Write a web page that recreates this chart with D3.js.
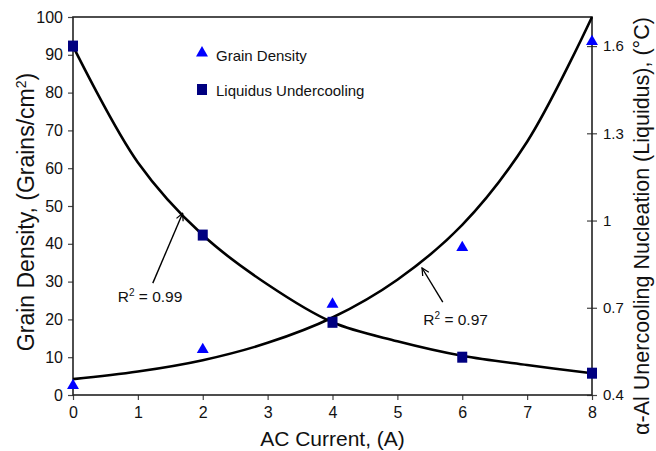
<!DOCTYPE html>
<html>
<head>
  <meta charset="utf-8">
  <script src="https://d3js.org/d3.v7.min.js"></script>
  <style>
    body { margin: 0; background: #fff; }
    text { font-family: "Liberation Sans", Arial, sans-serif; fill: #111; }
  </style>
</head>
<body>
<script>
// measured points
var current = [0, 2, 4, 6, 8];
var grainDensity = [2.5, 12, 24, 39, 93.5];          // left axis, grains/cm2
var undercooling = [1.6, 0.95, 0.65, 0.53, 0.475];   // right axis, degC

// fitted trend lines at whole amps
var fitCurrent = [0, 1, 2, 3, 4, 5, 6, 7, 8];
var grainFit = [4.2, 6.2, 9.2, 13.8, 20.5, 30.5, 45, 67, 100];
var underFit = [1.6, 1.2, 0.95, 0.78, 0.65, 0.585, 0.535, 0.503, 0.475];

var xTicks = [0, 1, 2, 3, 4, 5, 6, 7, 8];
var leftTicks = [0, 10, 20, 30, 40, 50, 60, 70, 80, 90, 100];
var rightTicks = [0.4, 0.7, 1, 1.3, 1.6];

var legendLabels = ["Grain Density", "Liquidus Undercooling"];
var r2Labels = ["0.99", "0.97"];

var W = 656, H = 451;
// note: "top" is taken by window.top, so use m-prefixed names
var mLeft = 73, mRight = 592, mTop = 17, mBottom = 395;

var svg = d3.select("body").append("svg").attr("width", W).attr("height", H);

var x = d3.scaleLinear().domain([0, 8]).range([mLeft, mRight]);
var yL = d3.scaleLinear().domain([0, 100]).range([mBottom, mTop]);
var yR = d3.scaleLinear().domain([0.4, 1.7]).range([mBottom, mTop]);

// axes
var gx = svg.append("g").attr("transform", "translate(0," + mBottom + ")")
  .call(d3.axisBottom(x).tickValues(xTicks).tickSize(5).tickPadding(7).tickFormat(d3.format("d")));
var gl = svg.append("g").attr("transform", "translate(" + mLeft + ",0)")
  .call(d3.axisLeft(yL).tickValues(leftTicks).tickSize(5).tickPadding(5));
var gr = svg.append("g").attr("transform", "translate(" + mRight + ",0)")
  .call(d3.axisRight(yR).tickValues(rightTicks).tickSize(5).tickPadding(6).tickFormat(function(d) { return String(d); }));

[gx, gl, gr].forEach(function(g) {
  g.select(".domain").remove();
  g.selectAll(".tick line").attr("stroke", "#444").attr("stroke-width", 1.2);
  g.selectAll(".tick text").style("font-size", "16px").attr("fill", "#111");
});
gr.selectAll(".tick line").attr("x1", -5);
gr.selectAll(".tick text").style("font-size", "15px");

// frame
svg.append("rect").attr("x", mLeft).attr("y", mTop)
  .attr("width", mRight - mLeft).attr("height", mBottom - mTop)
  .attr("fill", "none").attr("stroke", "#222").attr("stroke-width", 1.6);

// trend lines
var lineL = d3.line().x(function(d, i) { return x(fitCurrent[i]); }).y(function(d) { return yL(d); }).curve(d3.curveCatmullRom);
var lineR = d3.line().x(function(d, i) { return x(fitCurrent[i]); }).y(function(d) { return yR(d); }).curve(d3.curveCatmullRom);
svg.append("path").attr("d", lineL(grainFit)).attr("fill", "none").attr("stroke", "#000").attr("stroke-width", 2.6);
svg.append("path").attr("d", lineR(underFit)).attr("fill", "none").attr("stroke", "#000").attr("stroke-width", 2.6);

// markers
var tri = d3.symbol().type(d3.symbolTriangle).size(62);
svg.selectAll(".tri").data(grainDensity).enter().append("path")
  .attr("d", tri)
  .attr("transform", function(d, i) { return "translate(" + x(current[i]) + "," + yL(d) + ")"; })
  .attr("fill", "#0000ff");
svg.selectAll(".sq").data(undercooling).enter().append("rect")
  .attr("x", function(d, i) { return x(current[i]) - 5; })
  .attr("y", function(d) { return yR(d) - 5.5; })
  .attr("width", 10).attr("height", 11)
  .attr("fill", "#000080");

// legend
svg.append("path").attr("d", tri).attr("transform", "translate(202,53)").attr("fill", "#0000ff");
svg.append("rect").attr("x", 197).attr("y", 84).attr("width", 10).attr("height", 11).attr("fill", "#000080");
svg.append("text").attr("x", 216).attr("y", 61).style("font-size", "15px").text(legendLabels[0]);
svg.append("text").attr("x", 216).attr("y", 96).style("font-size", "15px").text(legendLabels[1]);

// R^2 annotations (positions in data units of the left axis)
svg.append("defs").append("marker").attr("id", "ah")
  .attr("viewBox", "0 0 10 10").attr("refX", 9).attr("refY", 5)
  .attr("markerWidth", 9).attr("markerHeight", 9).attr("orient", "auto")
  .attr("markerUnits", "userSpaceOnUse")
  .append("path").attr("d", "M1,1 L9,5 L1,9").attr("fill", "none").attr("stroke", "#000").attr("stroke-width", 1.4);

var notes = [
  { label: r2Labels[0], tail: [1.23, 29.6], tip: [1.69, 48.1], at: [0.69, 24.6] },
  { label: r2Labels[1], tail: [5.70, 24.6], tip: [5.38, 33.6], at: [5.40, 18.5] }
];
notes.forEach(function(n) {
  svg.append("line")
    .attr("x1", x(n.tail[0])).attr("y1", yL(n.tail[1]))
    .attr("x2", x(n.tip[0])).attr("y2", yL(n.tip[1]))
    .attr("stroke", "#000").attr("stroke-width", 1.4).attr("marker-end", "url(#ah)");
  var t = svg.append("text").attr("x", x(n.at[0])).attr("y", yL(n.at[1])).style("font-size", "15.5px");
  t.append("tspan").text("R");
  t.append("tspan").attr("dy", -6).style("font-size", "10px").text("2");
  t.append("tspan").attr("dy", 6).text(" = " + n.label);
});

// axis titles
svg.append("text").attr("x", (mLeft + mRight) / 2).attr("y", 446)
  .attr("text-anchor", "middle").style("font-size", "21px").text("AC Current, (A)");

var lt = svg.append("text").attr("transform", "translate(34,212) rotate(-90)")
  .attr("text-anchor", "middle").style("font-size", "23px");
lt.append("tspan").text("Grain Density, (Grains/cm");
lt.append("tspan").attr("dy", -8).style("font-size", "14px").text("2");
lt.append("tspan").attr("dy", 8).text(")");

svg.append("text").attr("transform", "translate(649,226) rotate(-90)")
  .attr("text-anchor", "middle").style("font-size", "21.5px")
  .text("\u03b1-Al Unercooling Nucleation (Liquidus), (\u00b0C)");
</script>
</body>
</html>
